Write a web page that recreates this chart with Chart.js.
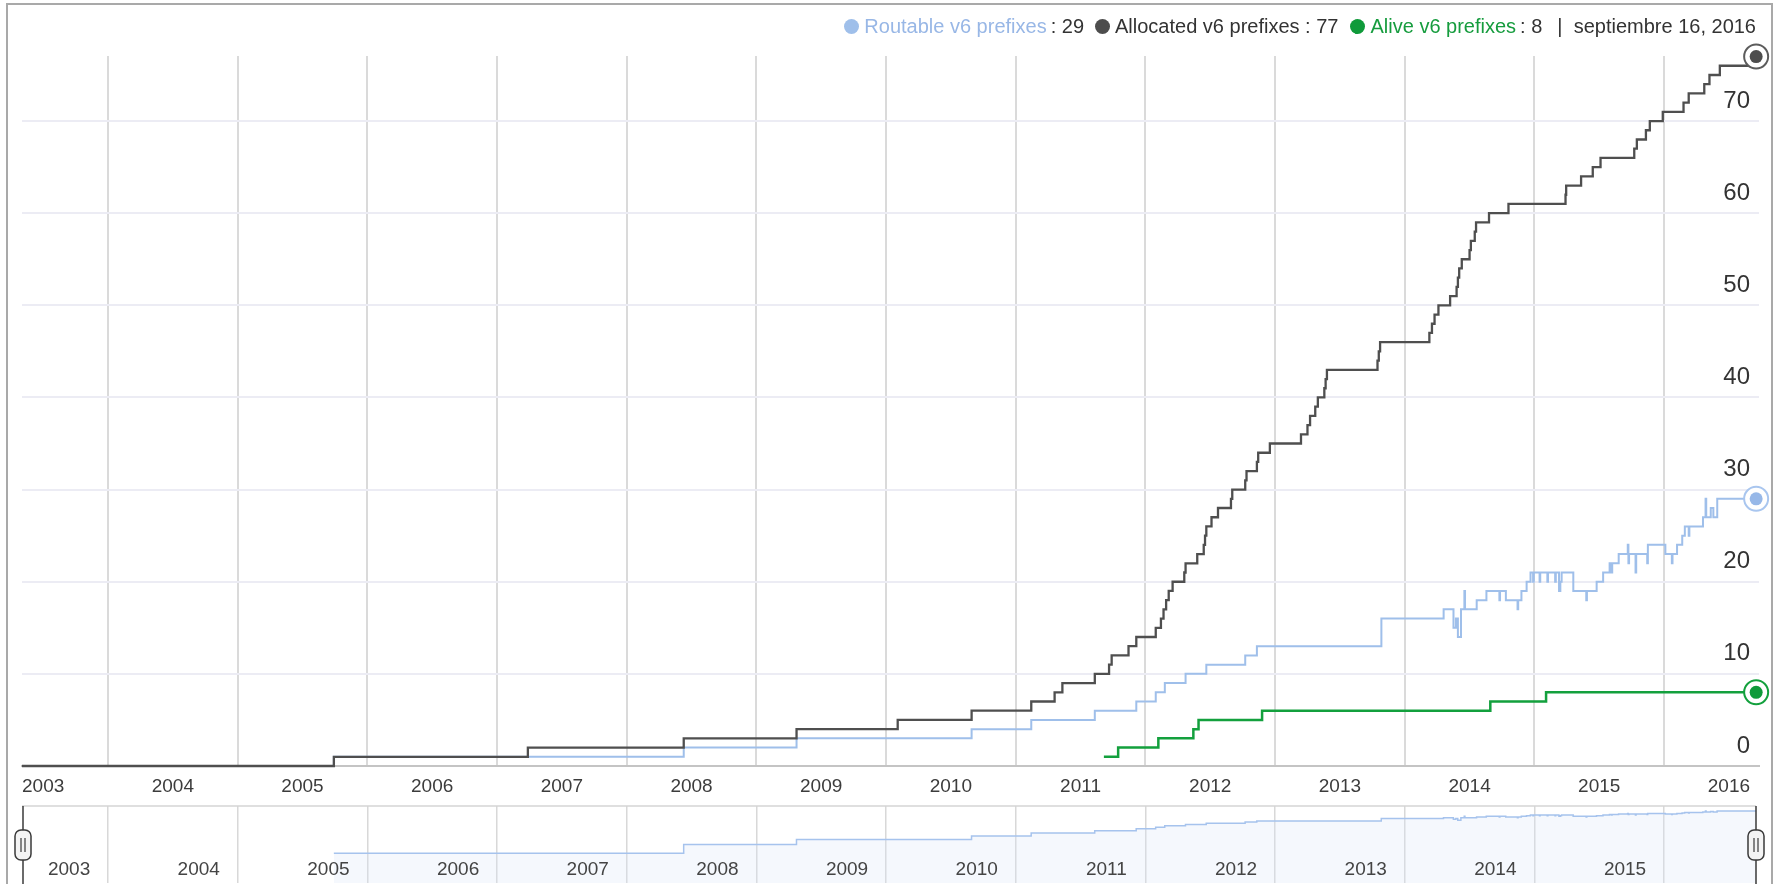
<!DOCTYPE html>
<html>
<head>
<meta charset="utf-8">
<script src="https://cdn.jsdelivr.net/npm/chart.js@4.4.1/dist/chart.umd.min.js"></script>
<style>
  html, body { margin: 0; padding: 0; background: #fff; }
  body { width: 1779px; height: 884px; overflow: hidden; position: relative; }
  #frame { position: absolute; left: 6px; top: 3px; width: 1767px; height: 950px; border: 2px solid #a9a9a9; box-sizing: border-box; }
  #main { position: absolute; left: 0; top: 0; }
  #nav { position: absolute; left: 0; top: 800px; }
  #legend { position: absolute; right: 23px; top: 14px; line-height: 24px; font-size: 20px;
            font-family: "Liberation Sans", Arial, sans-serif; color: #333; white-space: nowrap;
            display: flex; align-items: center; }
  .dot { display: inline-block; width: 15px; height: 15px; border-radius: 50%; margin-right: 5px; }
</style>
</head>
<body>
<div id="frame"></div>
<canvas id="main" width="1779" height="806"></canvas>
<canvas id="nav" width="1779" height="84"></canvas>
<div id="legend">
  <span class="dot" style="background:#9fbfea"></span><span style="color:#98b7e6">Routable v6 prefixes</span><span style="margin-left:4px">: 29</span>
  <span class="dot" style="background:#4d4d4d;margin-left:11px"></span><span>Allocated v6 prefixes : 77</span>
  <span class="dot" style="background:#0f9a3a;margin-left:12px"></span><span style="color:#169c3e">Alive v6 prefixes</span><span style="margin-left:4px">: 8</span>
  <span style="margin-left:15px">|&nbsp;&nbsp;septiembre 16, 2016</span>
</div>
<script>
// values, x in decimal years
const allocatedX = [2003.337, 2005.742, 2007.238, 2008.44, 2009.31, 2010.09, 2010.66, 2011.12, 2011.30, 2011.36,
  2011.61, 2011.72, 2011.74, 2011.87, 2011.93, 2012.08, 2012.12, 2012.14, 2012.16, 2012.18,
  2012.21, 2012.30, 2012.31, 2012.40, 2012.45, 2012.46, 2012.47, 2012.51, 2012.56, 2012.66,
  2012.67, 2012.77, 2012.78, 2012.86, 2012.87, 2012.96, 2013.20, 2013.25, 2013.27, 2013.31,
  2013.33, 2013.38, 2013.39, 2013.40, 2013.79, 2013.80, 2013.81, 2014.19, 2014.21, 2014.23,
  2014.26, 2014.35, 2014.40, 2014.41, 2014.42, 2014.44, 2014.50, 2014.51, 2014.54, 2014.55,
  2014.65, 2014.80, 2015.24, 2015.245, 2015.36, 2015.45, 2015.51, 2015.77, 2015.79, 2015.86,
  2015.89, 2015.99, 2016.15, 2016.19, 2016.31, 2016.35, 2016.43, 2016.70, 2016.71];
const allocatedY = [0, 1, 2, 3, 4, 5, 6, 7, 8, 9,
  10, 11, 12, 13, 14, 15, 16, 17, 18, 19,
  20, 21, 22, 23, 24, 25, 26, 27, 28, 29,
  30, 31, 32, 33, 34, 35, 36, 37, 38, 39,
  40, 41, 42, 43, 44, 45, 46, 47, 48, 49,
  50, 51, 52, 53, 54, 55, 56, 57, 58, 59,
  60, 61, 62, 63, 64, 65, 66, 67, 68, 69,
  70, 71, 72, 73, 74, 75, 76, 77, 77];

const routableX = [2003.337, 2005.742, 2008.44, 2009.31, 2010.66, 2011.12, 2011.61, 2011.93, 2012.08, 2012.15,
  2012.31, 2012.47, 2012.77, 2012.86, 2013.82, 2014.30, 2014.376, 2014.395, 2014.41, 2014.434,
  2014.46, 2014.465, 2014.555, 2014.63, 2014.73, 2014.735, 2014.78, 2014.87, 2014.875, 2014.90,
  2014.94, 2014.97, 2014.99, 2014.995, 2015.04, 2015.045, 2015.10, 2015.105, 2015.16, 2015.165,
  2015.19, 2015.20, 2015.21, 2015.30, 2015.40, 2015.405, 2015.48, 2015.53, 2015.58, 2015.595,
  2015.60, 2015.65, 2015.72, 2015.725, 2015.73, 2015.78, 2015.785, 2015.87, 2015.875, 2016.01,
  2016.06, 2016.065, 2016.10, 2016.14, 2016.16, 2016.19, 2016.195, 2016.30, 2016.32, 2016.325,
  2016.36, 2016.38, 2016.41, 2016.71];
const routableY = [0, 1, 2, 3, 4, 5, 6, 7, 8, 9,
  10, 11, 12, 13, 16, 17, 15, 16, 14, 17,
  19, 17, 18, 19, 18, 19, 18, 17, 18, 19,
  20, 21, 20, 21, 20, 21, 20, 21, 20, 21,
  19, 20, 21, 19, 18, 19, 20, 21, 22, 21,
  22, 23, 24, 22, 23, 21, 23, 22, 24, 23,
  22, 23, 24, 25, 26, 25, 26, 27, 29, 27,
  28, 27, 29, 29];

const aliveX = [2011.68, 2011.79, 2012.10, 2012.37, 2012.41, 2012.90, 2014.66, 2015.09, 2016.71];
const aliveY = [1, 2, 3, 4, 5, 6, 7, 8, 8];

const yearLabels = [2003, 2004, 2005, 2006, 2007, 2008, 2009, 2010, 2011, 2012, 2013, 2014, 2015, 2016];
const navYearLabels = [2003, 2004, 2005, 2006, 2007, 2008, 2009, 2010, 2011, 2012, 2013, 2014, 2015];
const gridYears = [2004, 2005, 2006, 2007, 2008, 2009, 2010, 2011, 2012, 2013, 2014, 2015, 2016];
const yTicks = [0, 10, 20, 30, 40, 50, 60, 70];

const toPoints = (xs, ys) => xs.map((x, i) => ({x: x, y: ys[i]}));

// gridlines on year starts, labels in the middle of each year
const mainXTicks = gridYears.concat(yearLabels.map(y => y + 0.5)).sort((a, b) => a - b);
const navXTicks = gridYears.concat(navYearLabels.map(y => y + 0.7)).sort((a, b) => a - b);

const endMarkers = {
  id: 'endMarkers',
  afterDatasetsDraw(chart) {
    const ctx = chart.ctx;
    chart.data.datasets.forEach((ds, i) => {
      const pts = chart.getDatasetMeta(i).data;
      const p = pts[pts.length - 1];
      ctx.save();
      ctx.beginPath();
      ctx.arc(p.x, p.y, 12, 0, Math.PI * 2);
      ctx.fillStyle = '#fff';
      ctx.fill();
      ctx.lineWidth = 2;
      ctx.strokeStyle = ds.ringColor;
      ctx.stroke();
      ctx.beginPath();
      ctx.arc(p.x, p.y, 6.5, 0, Math.PI * 2);
      ctx.fillStyle = ds.dotColor;
      ctx.fill();
      ctx.restore();
    });
  }
};

const mainConfig = {
  type: 'line',
  data: {
    datasets: [
      {
        label: 'Allocated v6 prefixes',
        data: toPoints(allocatedX, allocatedY),
        borderColor: '#4f4f4f',
        borderWidth: 2.3,
        ringColor: '#5c5c5c',
        dotColor: '#4d4d4d',
      },
      {
        label: 'Routable v6 prefixes',
        data: toPoints(routableX, routableY),
        borderColor: '#9fbfea',
        borderWidth: 2,
        ringColor: '#a9c6ef',
        dotColor: '#97b8e8',
      },
      {
        label: 'Alive v6 prefixes',
        data: toPoints(aliveX, aliveY),
        borderColor: '#13a03d',
        borderWidth: 2.5,
        ringColor: '#13a03d',
        dotColor: '#0f9a3a',
      },
    ],
  },
  options: {
    responsive: false,
    animation: false,
    events: [],
    layout: { padding: { left: 22, top: 56, right: 20, bottom: 0 } },
    elements: { line: { stepped: 'before', fill: false }, point: { radius: 0 } },
    datasets: { line: { clip: false } },
    plugins: { legend: { display: false }, tooltip: { enabled: false } },
    scales: {
      x: {
        type: 'linear',
        min: 2003.337,
        max: 2016.732,
        afterBuildTicks: s => { s.ticks = mainXTicks.map(v => ({value: v})); },
        afterFit: s => { s.height = 40; },
        grid: {
          drawTicks: false,
          lineWidth: 2,
          color: c => (c.tick && Number.isInteger(c.tick.value)) ? '#dadada' : 'rgba(0,0,0,0)',
        },
        border: { display: true, color: '#c4c4c4', width: 2 },
        ticks: {
          autoSkip: false,
          maxRotation: 0,
          padding: 9,
          color: '#3c3c3c',
          font: { family: '"Liberation Sans Narrow", "Liberation Sans", sans-serif', size: 19 },
          callback: v => Number.isInteger(v) ? '' : String(Math.floor(v)),
        },
      },
      y: {
        position: 'right',
        min: 0,
        max: 77.06,
        afterBuildTicks: s => { s.ticks = yTicks.map(v => ({value: v})); },
        afterFit: s => { s.width = 0; },
        grid: {
          drawTicks: false,
          lineWidth: 2,
          color: c => (c.tick && c.tick.value === 0) ? 'rgba(0,0,0,0)' : '#ececf4',
        },
        border: { display: false },
        ticks: {
          mirror: true,
          padding: -9,
          labelOffset: -20,
          color: '#333',
          font: { family: '"Liberation Sans", Arial, sans-serif', size: 24 },
        },
      },
    },
  },
  plugins: [endMarkers],
};

const navDecor = {
  id: 'navDecor',
  afterDraw(chart) {
    const ctx = chart.ctx;
    const a = chart.chartArea;
    ctx.save();
    ctx.strokeStyle = '#d4d4d4';
    ctx.lineWidth = 1.5;
    ctx.beginPath();
    ctx.moveTo(a.left, a.top);
    ctx.lineTo(a.right, a.top);
    ctx.stroke();
    [a.left + 1, a.right].forEach(x => {
      ctx.strokeStyle = '#3a3a3a';
      ctx.lineWidth = 1.5;
      ctx.beginPath();
      ctx.moveTo(x, a.top);
      ctx.lineTo(x, chart.height);
      ctx.stroke();
      const w = 16, h = 30, cy = a.top + 39;
      ctx.beginPath();
      ctx.roundRect(x - w / 2, cy - h / 2, w, h, 6);
      ctx.fillStyle = '#f4f4f4';
      ctx.fill();
      ctx.lineWidth = 1.5;
      ctx.stroke();
      ctx.beginPath();
      ctx.moveTo(x - 2, cy - 7); ctx.lineTo(x - 2, cy + 7);
      ctx.moveTo(x + 2, cy - 7); ctx.lineTo(x + 2, cy + 7);
      ctx.lineWidth = 1.2;
      ctx.stroke();
    });
    ctx.restore();
  }
};

const navConfig = {
  type: 'line',
  data: {
    datasets: [{
      label: 'Routable v6 prefixes',
      data: toPoints(routableX, routableY),
      borderColor: '#a6c3ed',
      borderWidth: 1.5,
      backgroundColor: 'rgba(215,227,247,0.25)',
      fill: 'start',
      stepped: 'before',
      pointRadius: 0,
    }],
  },
  options: {
    responsive: false,
    animation: false,
    events: [],
    layout: { padding: { left: 22, top: 6, right: 23, bottom: 1 } },
    plugins: { legend: { display: false }, tooltip: { enabled: false } },
    scales: {
      x: {
        type: 'linear',
        min: 2003.337,
        max: 2016.71,
        afterBuildTicks: s => { s.ticks = navXTicks.map(v => ({value: v})); },
        afterFit: s => { s.height = 0; },
        grid: {
          drawTicks: false,
          lineWidth: 1.5,
          color: c => (c.tick && Number.isInteger(c.tick.value)) ? '#d8d8d8' : 'rgba(0,0,0,0)',
        },
        border: { display: false },
        ticks: {
          autoSkip: false,
          maxRotation: 0,
          mirror: true,
          padding: 2,
          z: 1,
          color: '#444',
          font: { family: '"Liberation Sans Narrow", "Liberation Sans", sans-serif', size: 19 },
          callback: v => Number.isInteger(v) ? '' : String(Math.floor(v)),
        },
      },
      y: {
        type: 'logarithmic',
        min: 0.0938,
        max: 43.3,
        display: false,
      },
    },
  },
  plugins: [navDecor],
};

window.mainChart = new Chart(document.getElementById('main'), mainConfig);
window.navChart = new Chart(document.getElementById('nav'), navConfig);
</script>
</body>
</html>
